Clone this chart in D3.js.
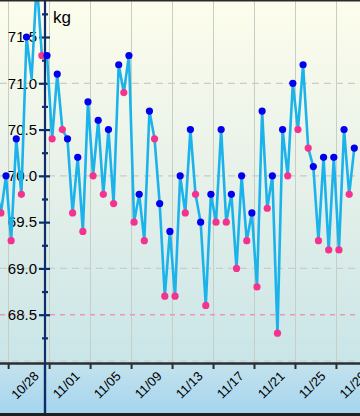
<!DOCTYPE html>
<html><head><meta charset="utf-8">
<script src="https://cdn.jsdelivr.net/npm/d3@7/dist/d3.min.js"></script>
<style>
html,body{margin:0;padding:0;background:#fff;}
svg{display:block;font-family:"Liberation Sans",Arial,Helvetica,sans-serif;}
</style></head>
<body>
<svg id="chart" width="360" height="416"></svg>
<script>
// ---- data ----
const days = ["2015-10-26","2015-10-27","2015-10-28","2015-10-29","2015-10-30","2015-10-31",
  "2015-11-01","2015-11-02","2015-11-03","2015-11-04","2015-11-05","2015-11-06","2015-11-07",
  "2015-11-08","2015-11-09","2015-11-10","2015-11-11","2015-11-12","2015-11-13","2015-11-14",
  "2015-11-15","2015-11-16","2015-11-17","2015-11-18","2015-11-19","2015-11-20","2015-11-21",
  "2015-11-22","2015-11-23","2015-11-24","2015-11-25","2015-11-26","2015-11-27","2015-11-28",
  "2015-11-29","2015-11-30"];
const morning = [null,69.6,69.3,69.8,71.05,71.3,
  70.4,70.5,69.6,69.4,70.0,69.8,69.7,
  70.9,69.5,69.3,70.4,68.7,68.7,69.6,
  69.8,68.6,69.5,69.5,69.0,69.3,68.8,
  69.65,68.3,70.0,70.5,70.3,69.3,69.2,
  69.2,69.8];
const evening = [69.9,70.0,70.4,71.5,72.1,71.3,
  71.1,70.4,70.2,70.8,70.6,70.5,71.2,
  71.3,69.8,70.7,69.7,69.4,70.0,70.5,
  69.5,69.8,70.5,69.8,70.0,69.6,70.7,
  70.0,70.5,71.0,71.2,70.1,70.2,70.2,
  70.5,70.3];
// readings whose marker is not shown in the picture (line vertex only)
const hiddenMarkers = ["2015-10-30 m"];
const majorTicks = [68.5,69.0,69.5,70.0,70.5,71.0,71.5];
const minorTicks = [68.25,68.75,69.25,69.75,70.25,70.75,71.25,71.75];
const gridValues = [68,69,70,71];
const targetWeight = 68.5;
const xTickDates = ["2015-10-28","2015-11-01","2015-11-05","2015-11-09","2015-11-13",
  "2015-11-17","2015-11-21","2015-11-25","2015-11-29"];
const unitLabel = "kg";

// ---- layout ----
const W = 360, H = 416;
const axisX = 45, plotBottom = 363, bottomEdge = 413;
const svg = d3.select("#chart");
const parse = s => { const [a,b,c] = s.split("-").map(Number); return (h) => new Date(Date.UTC(a,b-1,c,h)); };

const x = d3.scaleUtc()
  .domain([parse("2015-10-31")(19), parse("2015-11-30")(19)])
  .range([47, 354.3]);
const y = d3.scaleLinear().domain([68.5, 71.5]).range([314.7, 37]);

const pts = [];
days.forEach((d,i) => {
  if (morning[i] != null) pts.push({t: parse(d)(7), v: morning[i], kind: "m", key: d + " m"});
  if (evening[i] != null) pts.push({t: parse(d)(19), v: evening[i], kind: "e", key: d + " e"});
});

// ---- backgrounds ----
const defs = svg.append("defs");
const g1 = defs.append("linearGradient").attr("id","bgPlot").attr("x1",0).attr("y1",0).attr("x2",0).attr("y2",1);
g1.append("stop").attr("offset","0%").attr("stop-color","#fdfdec");
g1.append("stop").attr("offset","45%").attr("stop-color","#e9f2e9");
g1.append("stop").attr("offset","100%").attr("stop-color","#c9e5e8");
const g2 = defs.append("linearGradient").attr("id","bgAxis").attr("x1",0).attr("y1",0).attr("x2",0).attr("y2",1);
g2.append("stop").attr("offset","0%").attr("stop-color","#c4e2ec");
g2.append("stop").attr("offset","100%").attr("stop-color","#a5d5ef");

svg.append("rect").attr("x",0).attr("y",0).attr("width",W).attr("height",plotBottom).attr("fill","url(#bgPlot)");
svg.append("rect").attr("x",0).attr("y",plotBottom).attr("width",W).attr("height",bottomEdge-plotBottom).attr("fill","url(#bgAxis)");

// vertical grid
const tickDates = xTickDates.map(s => parse(s)(0));
svg.append("g").selectAll("line").data(tickDates).join("line")
  .attr("x1",d=>Math.round(x(d))+0.5).attr("x2",d=>Math.round(x(d))+0.5)
  .attr("y1",0).attr("y2",plotBottom)
  .attr("stroke","#c5cfc6").attr("stroke-width",1);

// horizontal dashed grid
svg.append("g").selectAll("line").data(gridValues).join("line")
  .attr("x1",0).attr("x2",W)
  .attr("y1",d=>y(d)).attr("y2",d=>y(d))
  .attr("stroke","#c9cccc").attr("stroke-width",1.2).attr("stroke-dasharray","7,5");

// target line
svg.append("line").attr("x1",0).attr("x2",W)
  .attr("y1",y(targetWeight)).attr("y2",y(targetWeight))
  .attr("stroke","#ee94ba").attr("stroke-width",1.4).attr("stroke-dasharray","5,5");

// ---- y axis ----
const yAx = svg.append("g").attr("transform",`translate(${axisX},0)`);
yAx.append("line").attr("x1",0).attr("x2",0).attr("y1",0).attr("y2",bottomEdge)
  .attr("stroke","#0e2d6b").attr("stroke-width",2.2);
const aL = yAx.append("g").call(d3.axisLeft(y).tickValues(majorTicks).tickSize(6).tickPadding(2).tickFormat(d3.format(".1f")));
const aR = yAx.append("g").call(d3.axisRight(y).tickValues(majorTicks).tickSize(5).tickFormat(""));
const mL = yAx.append("g").call(d3.axisLeft(y).tickValues(minorTicks).tickSize(3).tickFormat(""));
const mR = yAx.append("g").call(d3.axisRight(y).tickValues(minorTicks).tickSize(3).tickFormat(""));
[aL,aR,mL,mR].forEach(a => {
  a.select(".domain").remove();
  a.selectAll(".tick line").attr("stroke","#0e2d6b").attr("stroke-width",2.2);
});
aL.selectAll(".tick text").attr("fill","#000").style("font-size","15px")
  .style("font-family","'Liberation Sans',Arial,sans-serif");

svg.append("text").attr("x",53).attr("y",22.5).text(unitLabel)
  .attr("fill","#000").style("font-size","17px");

// ---- data line + markers ----
const line = d3.line().x(d=>x(d.t)).y(d=>y(d.v));
svg.append("path").datum(pts).attr("d",line)
  .attr("fill","none").attr("stroke","#1cb2ea").attr("stroke-width",2.6)
  .attr("stroke-linejoin","round");
svg.append("g").selectAll("circle").data(pts.filter(p => !hiddenMarkers.includes(p.key))).join("circle")
  .attr("cx",d=>x(d.t)).attr("cy",d=>y(d.v)).attr("r",3.6)
  .attr("fill",d=>d.kind==="e" ? "#0000ee" : "#f4338f");

// ---- x axis ----
svg.append("line").attr("x1",0).attr("x2",W).attr("y1",plotBottom+0.5).attr("y2",plotBottom+0.5)
  .attr("stroke","#2b2f33").attr("stroke-width",2.6);
const xAx = svg.append("g").attr("transform",`translate(0,${plotBottom})`)
  .call(d3.axisBottom(x).tickValues(tickDates).tickSize(6).tickFormat(d3.utcFormat("%m/%d")));
xAx.select(".domain").remove();
xAx.selectAll(".tick line").attr("stroke","#2b2f33").attr("stroke-width",2);
xAx.selectAll(".tick text")
  .attr("fill","#000").style("font-size","13px")
  .style("font-family","'Liberation Sans',Arial,sans-serif")
  .attr("text-anchor","end").attr("dy",null).attr("y",null)
  .attr("transform","translate(31,14) rotate(-45)");

// y axis line over the x-axis band
svg.append("line").attr("x1",axisX).attr("x2",axisX).attr("y1",plotBottom).attr("y2",bottomEdge)
  .attr("stroke","#0e2d6b").attr("stroke-width",2.2);

// borders
svg.append("rect").attr("x",0).attr("y",0).attr("width",W).attr("height",1.5).attr("fill","#2a2a2a");
svg.append("rect").attr("x",0).attr("y",bottomEdge).attr("width",W).attr("height",H-bottomEdge).attr("fill","#1f1f1f");
</script>
</body></html>
